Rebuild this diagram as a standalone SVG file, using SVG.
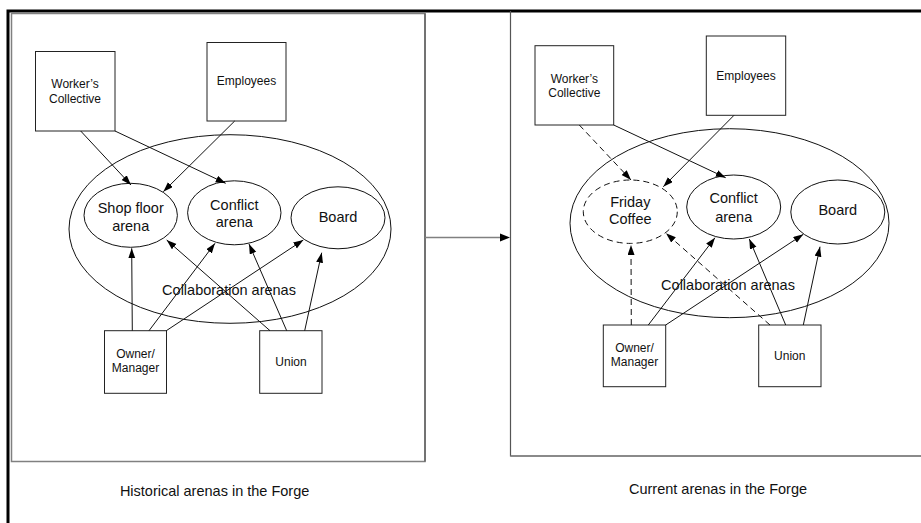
<svg xmlns="http://www.w3.org/2000/svg" width="921" height="523" viewBox="0 0 921 523">
<style>
text{font-family:"Liberation Sans",Arial,sans-serif;fill:#111;text-anchor:middle}
.box{fill:#fff;stroke:#222;stroke-width:1}
.ell{fill:none;stroke:#111;stroke-width:1}
.dash{stroke-dasharray:6 4}
.sm{font-size:12px}
.md{font-size:14.5px}
.c{stroke:#111;stroke-width:1;fill:none;marker-end:url(#ah)}
.cd{stroke:#111;stroke-width:1;fill:none;stroke-dasharray:6 4;marker-end:url(#ah)}
.panel{fill:none;stroke:#808080;stroke-width:1.5}
</style>
<defs>
<marker id="ah" markerUnits="userSpaceOnUse" markerWidth="11" markerHeight="8" refX="10" refY="3.5" orient="auto">
<path d="M0,0 L10,3.5 L0,7 z" fill="#000" stroke="none"/>
</marker>
</defs>
<rect width="921" height="523" fill="#fff"/>
<path d="M8,523 V11 H921" fill="none" stroke="#000" stroke-width="3"/>
<g id="panel-left">
<rect x="11.5" y="13.5" width="413.5" height="448" class="panel"/>
<path d="M425,13.5 V461.5" stroke="#555" stroke-width="1.2"/>
</g>
<g id="panel-right">
<path d="M510.5,11 V456 H921" fill="none" stroke="#555" stroke-width="1.2"/>
<path d="M510.5,456 H921" stroke="#808080" stroke-width="1.5"/>
</g>
<g id="transition">
<line x1="425" y1="237.5" x2="500" y2="237.5" stroke="#808080" stroke-width="1.5"/>
<path d="M500,233.5 L510,237.5 L500,241.5 z" fill="#000"/>
</g>

<!-- LEFT -->
<g id="L-collab">
<ellipse cx="230" cy="229" rx="161" ry="94.3" class="ell"/>
<text x="229" y="295" class="md">Collaboration arenas</text>
</g>
<g id="L-workers">
<rect x="35.5" y="51.5" width="79.5" height="79.5" class="box"/>
<text x="75" y="88" class="sm">Worker’s</text>
<text x="75" y="103" class="sm">Collective</text>
</g>
<g id="L-employees">
<rect x="207" y="42.5" width="79" height="78.5" class="box"/>
<text x="246.5" y="85" class="sm">Employees</text>
</g>
<g id="L-shop">
<ellipse cx="130.7" cy="215.3" rx="46.7" ry="32" class="ell"/>
<text x="130.7" y="213.3" class="md">Shop floor</text>
<text x="130.7" y="231" class="md">arena</text>
</g>
<g id="L-conflict">
<ellipse cx="234.3" cy="212.8" rx="46.7" ry="32" class="ell"/>
<text x="234.3" y="210" class="md">Conflict</text>
<text x="234.3" y="227.3" class="md">arena</text>
</g>
<g id="L-board">
<ellipse cx="338" cy="217.8" rx="47" ry="31" class="ell"/>
<text x="338" y="221.7" class="md">Board</text>
</g>
<g id="L-owner">
<rect x="104.5" y="330.7" width="62" height="62.6" class="box"/>
<text x="135.5" y="357.5" class="sm">Owner/</text>
<text x="135.5" y="371.7" class="sm">Manager</text>
</g>
<g id="L-union">
<rect x="259.7" y="330.7" width="62.3" height="62.6" class="box"/>
<text x="291" y="365.7" class="sm">Union</text>
</g>
<text x="214.6" y="496" class="md">Historical arenas in the Forge</text>

<!-- RIGHT -->
<g id="R-collab">
<ellipse cx="729.5" cy="223.2" rx="159.5" ry="94.5" class="ell"/>
<text x="728" y="289.7" class="md">Collaboration arenas</text>
</g>
<g id="R-workers">
<rect x="535" y="45.7" width="78.7" height="79.3" class="box"/>
<text x="574.3" y="82.5" class="sm">Worker’s</text>
<text x="574.3" y="97" class="sm">Collective</text>
</g>
<g id="R-employees">
<rect x="706.3" y="36" width="79.4" height="79.3" class="box"/>
<text x="746" y="80" class="sm">Employees</text>
</g>
<g id="R-friday">
<ellipse cx="630.3" cy="211.7" rx="47" ry="31.7" class="ell dash"/>
<text x="630.3" y="207.3" class="md">Friday</text>
<text x="630.3" y="224.3" class="md">Coffee</text>
</g>
<g id="R-conflict">
<ellipse cx="733.7" cy="207" rx="47" ry="32" class="ell"/>
<text x="733.7" y="203.3" class="md">Conflict</text>
<text x="733.7" y="221.7" class="md">arena</text>
</g>
<g id="R-board">
<ellipse cx="837.8" cy="212" rx="47" ry="32" class="ell"/>
<text x="837.8" y="215" class="md">Board</text>
</g>
<g id="R-owner">
<rect x="603.3" y="325" width="62.4" height="61.7" class="box"/>
<text x="634.5" y="352.3" class="sm">Owner/</text>
<text x="634.5" y="366" class="sm">Manager</text>
</g>
<g id="R-union">
<rect x="758.7" y="325" width="62.3" height="61.7" class="box"/>
<text x="789.8" y="360.3" class="sm">Union</text>
</g>
<text x="718" y="494.3" class="md">Current arenas in the Forge</text>

<g id="connectors">
<!-- left -->
<line x1="80.7" y1="131" x2="131" y2="185" class="c"/>
<line x1="115" y1="131" x2="225.7" y2="183.3" class="c"/>
<line x1="234.7" y1="121" x2="163.3" y2="191.7" class="c"/>
<line x1="132.3" y1="330.7" x2="131.7" y2="248.3" class="c"/>
<line x1="149" y1="330.7" x2="215" y2="243.3" class="c"/>
<line x1="166.3" y1="330.7" x2="303.3" y2="240" class="c"/>
<line x1="270" y1="330.7" x2="166.7" y2="240" class="c"/>
<line x1="286.7" y1="330.7" x2="249" y2="244" class="c"/>
<line x1="304.7" y1="330.7" x2="321.7" y2="252.7" class="c"/>
<!-- right -->
<line x1="579.3" y1="125" x2="631" y2="180" class="cd"/>
<line x1="613.7" y1="125" x2="725.7" y2="177.7" class="c"/>
<line x1="734" y1="115.3" x2="663.3" y2="186.7" class="c"/>
<line x1="631.3" y1="325" x2="631" y2="245" class="cd"/>
<line x1="648.3" y1="325" x2="715" y2="237.7" class="c"/>
<line x1="665.7" y1="325" x2="803.3" y2="234.3" class="c"/>
<line x1="770" y1="325" x2="666" y2="233.3" class="cd"/>
<line x1="785.7" y1="325" x2="749.3" y2="239" class="c"/>
<line x1="803.3" y1="325" x2="820" y2="246.7" class="c"/>
</g>
</svg>
